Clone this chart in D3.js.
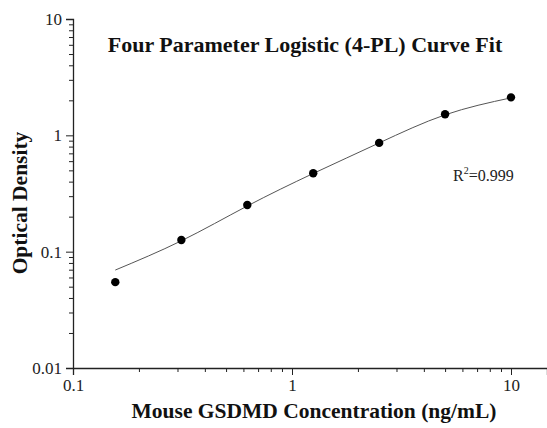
<!DOCTYPE html>
<html>
<head>
<meta charset="utf-8">
<script src="https://cdn.jsdelivr.net/npm/d3@7"></script>
<style>
  body { margin: 0; background: #fff; }
  text { font-family: "Liberation Serif", "Times New Roman", serif; }
</style>
</head>
<body>
<div id="chart"></div>
<script>
// standards (ng/mL) and measured OD
const conc = [0.156, 0.3125, 0.625, 1.25, 2.5, 5, 10];
const od = [0.0547, 0.126, 0.252, 0.472, 0.861, 1.52, 2.12];
// fitted curve at the same concentrations
const fitOd = [0.0695, 0.124, 0.247, 0.47, 0.86, 1.50, 2.10];
const xMajor = [0.1, 1, 10];
const yMajor = [0.01, 0.1, 1, 10];
const rSquared = "0.999";

const W = 547, H = 428;
const svg = d3.select("#chart").append("svg").attr("width", W).attr("height", H);

const x = d3.scaleLog().domain([0.1, 14.6]).range([73, 547]);
const y = d3.scaleLog().domain([0.01, 10]).range([368, 19]);

const minorX = [];
[0.1, 1].forEach(d => { for (let k = 2; k <= 9; k++) minorX.push(d * k); });
const minorY = [];
[0.01, 0.1, 1].forEach(d => { for (let k = 2; k <= 9; k++) minorY.push(d * k); });

const fmt = d => d3.format("~g")(d);

// x axis
const gx = svg.append("g").attr("transform", "translate(0,368)");
gx.call(d3.axisBottom(x).tickValues(xMajor).tickFormat(fmt).tickSizeOuter(0).tickSize(7).tickPadding(4));
gx.append("g").call(d3.axisBottom(x).tickValues(minorX).tickFormat("").tickSizeOuter(0).tickSize(4))
  .select(".domain").remove();
gx.select(".domain").attr("stroke-width", 1.3);

// y axis
const gy = svg.append("g").attr("transform", "translate(73,0)");
gy.call(d3.axisLeft(y).tickValues(yMajor).tickFormat(fmt).tickSizeOuter(0).tickSize(7).tickPadding(4));
gy.append("g").call(d3.axisLeft(y).tickValues(minorY).tickFormat("").tickSizeOuter(0).tickSize(4))
  .select(".domain").remove();
gy.select(".domain").attr("stroke-width", 1.3);

svg.selectAll(".tick text")
  .attr("font-family", "Liberation Serif, Times New Roman, serif")
  .attr("font-size", 17)
  .attr("fill", "#222");
svg.selectAll(".tick line").attr("stroke", "#222");
svg.selectAll(".domain").attr("stroke", "#222");

// fitted curve
const fit = conc.map((c, i) => [c, fitOd[i]]);
svg.append("path")
  .datum(fit)
  .attr("fill", "none")
  .attr("stroke", "#555")
  .attr("stroke-width", 1)
  .attr("d", d3.line().x(d => x(d[0])).y(d => y(d[1])).curve(d3.curveNatural));

// points
svg.selectAll("circle.pt")
  .data(conc.map((c, i) => [c, od[i]]))
  .enter()
  .append("circle")
  .attr("class", "pt")
  .attr("cx", d => x(d[0]))
  .attr("cy", d => y(d[1]))
  .attr("r", 4.2)
  .attr("fill", "#000");

// title
svg.append("text")
  .attr("x", 305).attr("y", 52)
  .attr("text-anchor", "middle")
  .attr("font-weight", "bold")
  .attr("font-size", 22)
  .attr("fill", "#111")
  .text("Four Parameter Logistic (4-PL) Curve Fit");

// axis titles
svg.append("text")
  .attr("x", 314).attr("y", 418)
  .attr("text-anchor", "middle")
  .attr("font-weight", "bold")
  .attr("font-size", 21.5)
  .attr("fill", "#111")
  .text("Mouse GSDMD Concentration (ng/mL)");

svg.append("text")
  .attr("transform", "translate(27,203) rotate(-90)")
  .attr("text-anchor", "middle")
  .attr("font-weight", "bold")
  .attr("font-size", 21.5)
  .attr("fill", "#111")
  .text("Optical Density");

// R squared
const r2 = svg.append("text")
  .attr("x", 453).attr("y", 181)
  .attr("font-size", 16)
  .attr("fill", "#222");
r2.append("tspan").text("R");
r2.append("tspan").attr("font-size", 10).attr("dy", -7).text("2");
r2.append("tspan").attr("dy", 7).text("=" + rSquared);
</script>
</body>
</html>
